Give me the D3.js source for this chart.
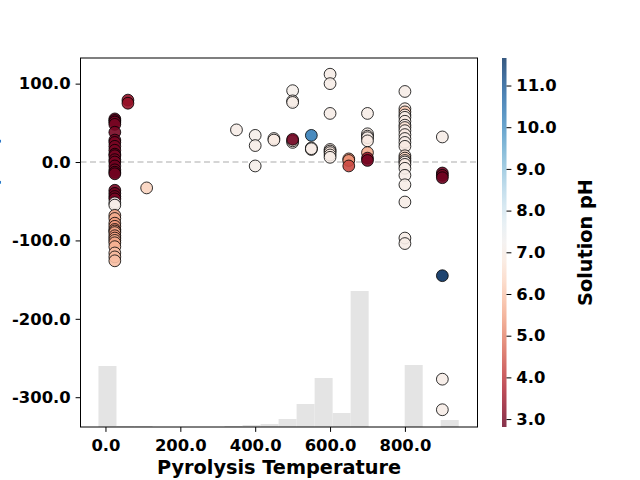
<!DOCTYPE html>
<html><head><meta charset="utf-8">
<script src="https://cdn.jsdelivr.net/npm/d3@7"></script>
<style>
body{margin:0;background:#fff}
text{font-family:"DejaVu Sans",sans-serif;font-weight:bold;fill:#000}
</style>
</head><body>
<svg id="chart" width="640" height="480"></svg>
<script>
// ---------- data ----------
const temperature = [
  25,25,25,25,25,25,25,25,25,25,25,25,25,25,25,25,25,25,25,25,25,
  25,25,
  25,25,25,25,25,25,25,25,25,25,25,25,25,25,25,
  60,60,
  110,
  350,
  400,400,400,
  450,450,
  500,500,500,500,500,500,
  550,550,550,550,
  600,600,600,600,600,600,600,600,
  650,650,650,
  700,700,700,700,700,700,700,700,
  800,800,800,800,800,800,800,800,800,800,800,800,800,800,800,800,800,800,800,800,800,800,800,800,
  900,900,900,900,900,900,900
];
const response = [
  55,53,51,48,38,28,25,20,15,10,8,3,0,-5,-10,-13,-15,-36,-40,-44,-47,
  -52,-55,
  -68,-72,-78,-82,-86,-88,-90,-94,-97,-100,-103,-108,-116,-121,-126,
  79,75,
  -33,
  41,
  34,21,-5,
  30,28,
  91,78,76,25,27,29,
  18,16,17,34,
  112,100,62,16,14,12,9,6,
  4,2,-5,
  62,36,33,31,27,12,5,2,
  90,68,64,60,57,52,47,44,40,35,30,25,20,8,5,2,0,-3,-8,-17,-29,-51,-97,-104,
  32,-14,-17,-20,-145,-277,-316
];
const solutionPH = [
  2.9,2.81,3.0,3.0,3.0,2.9,3.0,3.0,3.0,2.9,3.0,3.0,3.0,2.9,3.0,3.0,2.9,3.0,2.9,3.0,3.0,
  7.2,7.0,
  5.5,5.6,5.4,5.3,5.2,5.4,5.5,5.3,5.4,5.6,5.5,5.7,5.9,5.8,5.9,
  3.3,3.4,
  6.3,
  7.0,
  7.1,7.0,7.1,
  7.0,6.9,
  7.1,7.0,7.0,7.0,6.9,2.9,
  7.0,6.9,7.0,10.3,
  7.0,7.0,7.0,6.9,7.0,6.8,6.9,7.0,
  5.3,5.2,4.3,
  7.0,7.0,6.9,7.0,6.9,5.6,3.4,3.0,
  7.0,6.9,6.1,6.9,7.0,6.9,7.0,6.6,7.0,6.9,7.0,7.0,6.9,6.6,6.3,6.8,7.0,6.9,7.0,7.0,7.0,7.0,7.0,7.0,
  7.0,2.9,3.0,2.9,11.66,7.0,7.0
];
// histogram of pyrolysis temperature (bin edges and bar heights)
const histEdges = [-18.75,29.375,77.5,125.625,173.75,221.875,270,318.125,366.25,414.375,462.5,
                   510.625,558.75,606.875,655,703.125,751.25,799.375,847.5,895.625,943.75];
const histCounts = [61,1,1,0,0,0,0,1,2,3,8,23,49,14,136,0,0,62,0,7];
const xTicks = [0,200,400,600,800];
const yTicks = [-300,-200,-100,0,100];
const phTicks = [3,4,5,6,7,8,9,10,11];

// ---------- layout ----------
const svg = d3.select("#chart");
const M = {l:80.5, r:477.5, t:58, b:427};
const x = d3.scaleLinear().domain([-66.7, 993.9]).range([M.l, M.r]);
const y = d3.scaleLinear().domain([-338, 132.7]).range([M.b, M.t]);
const hy = d3.scaleLinear().domain([0, 369]).range([M.b, M.t]);
const phDomain = [2.81, 11.66];
const color = d3.scaleSequential(d3.interpolateRdBu).domain(phDomain);

// histogram
svg.append("g").selectAll("rect").data(histCounts).join("rect")
  .attr("x", (d,i)=>x(histEdges[i]))
  .attr("width", (d,i)=>x(histEdges[i+1])-x(histEdges[i]))
  .attr("y", d=>hy(d))
  .attr("height", d=>M.b-hy(d))
  .attr("fill", "#e4e4e4");

// zero line
svg.append("line")
  .attr("x1", M.l).attr("x2", M.r).attr("y1", y(0)).attr("y2", y(0))
  .attr("stroke", "#c8c8c8").attr("stroke-width", 1.4).attr("stroke-dasharray", "6,3.5");

// points
const pts = temperature.map((t,i)=>({t, v:response[i], ph:solutionPH[i]}));
svg.append("g").selectAll("circle").data(pts).join("circle")
  .attr("cx", d=>x(d.t)).attr("cy", d=>y(d.v)).attr("r", 5.9)
  .attr("fill", d=>color(d.ph)).attr("fill-opacity", 0.9)
  .attr("stroke", "#000").attr("stroke-opacity", 0.8).attr("stroke-width", 1);

// frame
svg.append("rect").attr("x", M.l).attr("y", M.t)
  .attr("width", M.r-M.l).attr("height", M.b-M.t)
  .attr("fill", "none").attr("stroke", "#000").attr("stroke-width", 1);

// axes
const fmt = d => d.toFixed(1);
const gx = svg.append("g").attr("transform", `translate(0,${M.b})`)
  .call(d3.axisBottom(x).tickValues(xTicks).tickFormat(fmt).tickSize(4.9).tickPadding(7));
const gy = svg.append("g").attr("transform", `translate(${M.l},0)`)
  .call(d3.axisLeft(y).tickValues(yTicks).tickFormat(fmt).tickSize(4.9).tickPadding(4.9));
[gx, gy].forEach(g=>{
  g.select(".domain").remove();
  g.selectAll("text").attr("font-size", 16.4).attr("font-family", "DejaVu Sans").attr("font-weight", "bold").attr("fill", "#000");
  g.selectAll("line").attr("stroke", "#000");
});

svg.append("text").attr("x", (M.l+M.r)/2).attr("y", 474)
  .attr("text-anchor", "middle").attr("font-size", 19.3).text("Pyrolysis Temperature");
svg.append("text").attr("transform", `translate(-2.5,${(M.t+M.b)/2}) rotate(-90)`)
  .attr("text-anchor", "middle").attr("font-size", 19.3).text("Zeta Potential (mV)");

// colorbar
const cb = {x:502, w:4.5, t:M.t, b:M.b};
const grad = svg.append("defs").append("linearGradient").attr("id", "cbg")
  .attr("x1", 0).attr("y1", 1).attr("x2", 0).attr("y2", 0);
d3.range(0, 1.0001, 0.05).forEach(s => {
  grad.append("stop").attr("offset", s).attr("stop-color", d3.interpolateRdBu(s));
});
svg.append("rect").attr("x", cb.x).attr("y", cb.t).attr("width", cb.w).attr("height", cb.b-cb.t)
  .attr("fill", "url(#cbg)").attr("fill-opacity", 0.8);
const cy = d3.scaleLinear().domain(phDomain).range([cb.b, cb.t]);
const gc = svg.append("g").attr("transform", `translate(${cb.x+cb.w},0)`)
  .call(d3.axisRight(cy).tickValues(phTicks).tickFormat(fmt).tickSize(4.9).tickPadding(4.9));
gc.select(".domain").remove();
gc.selectAll("text").attr("font-size", 16.4).attr("font-family", "DejaVu Sans").attr("font-weight", "bold").attr("fill", "#000");
gc.selectAll("line").attr("stroke", "#000");
svg.append("text").attr("transform", `translate(591.5,${(M.t+M.b)/2}) rotate(-90)`)
  .attr("text-anchor", "middle").attr("font-size", 19.3).text("Solution pH");
</script>
</body></html>
